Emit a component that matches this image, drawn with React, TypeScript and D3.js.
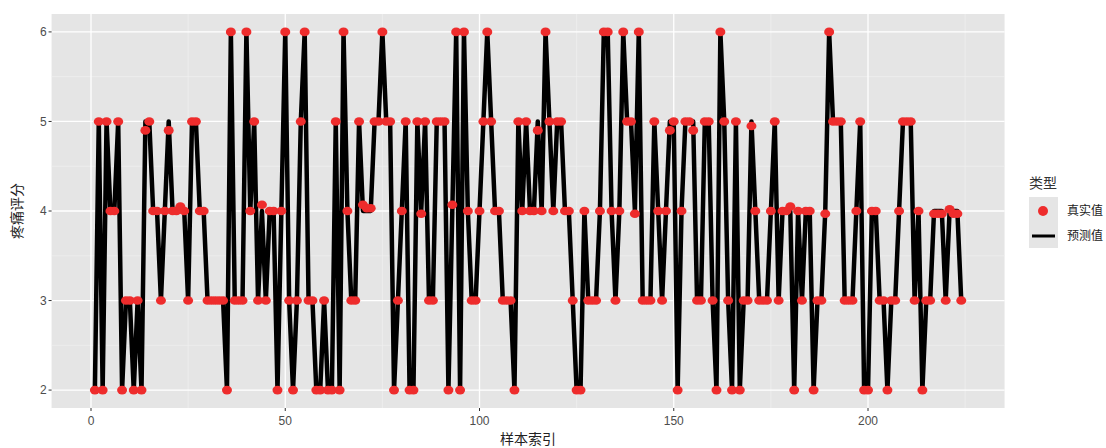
import React from 'react';
import * as d3 from 'd3';

// 真实值 (red points), index 1..224
const trueVals = [
  2, 5, 2, 5, 4, 4, 5, 2, 3, 3,
  2, 3, 2, 4.9, 5, 4, 4, 3, 4, 4.9,
  4, 4, 4.05, 4, 3, 5, 5, 4, 4, 3,
  3, 3, 3, 3, 2, 6, 3, 3, 3, 6,
  4, 5, 3, 4.07, 3, 4, 4, 2, 4, 6,
  3, 2, 3, 5, 6, 3, 3, 2, 2, 3,
  2, 2, 5, 2, 6, 4, 3, 3, 5, 4.07,
  4.03, 4.03, 5, 5, 6, 5, 5, 2, 3, 4,
  5, 2, 2, 5, 3.97, 5, 3, 3, 5, 5,
  5, 2, 4.07, 6, 2, 6, 4, 3, 3, 4,
  5, 6, 5, 4, 4, 3, 3, 3, 2, 5,
  4, 5, 4, 4, 4.9, 4, 6, 5, 4, 5,
  5, 4, 4, 3, 2, 2, 4, 3, 3, 3,
  4, 6, 6, 4, 3, 4, 6, 5, 5, 3.97,
  6, 3, 3, 3, 5, 4, 3, 4, 4.9, 5,
  2, 4, 5, 5, 4.9, 3, 3, 5, 5, 3,
  2, 6, 5, 3, 2, 5, 2, 3, 3, 4.95,
  4, 3, 3, 3, 4, 5, 3, 4, 4, 4.05,
  2, 4, 3, 4, 4, 2, 3, 3, 3.97, 6,
  5, 5, 5, 3, 3, 3, 4, 5, 2, 2,
  4, 4, 3, 3, 2, 3, 3, 4, 5, 5,
  5, 3, 4, 2, 3, 3, 3.97, 3.97, 3.97, 3,
  4.02, 3.97, 3.97, 3,
];

// 预测值 (black line)
const predVals = [
  2, 5, 2, 5, 4, 4, 5, 2, 3, 3,
  2, 3, 2, 5, 5, 4, 4, 3, 4, 5,
  4, 4, 4, 4, 3, 5, 5, 4, 4, 3,
  3, 3, 3, 3, 2, 6, 3, 3, 3, 6,
  4, 5, 3, 4, 3, 4, 4, 2, 4, 6,
  3, 2, 3, 5, 6, 3, 3, 2, 2, 3,
  2, 2, 5, 2, 6, 4, 3, 3, 5, 4,
  4, 4, 5, 5, 6, 5, 5, 2, 3, 4,
  5, 2, 2, 5, 4, 5, 3, 3, 5, 5,
  5, 2, 4, 6, 2, 6, 4, 3, 3, 4,
  5, 6, 5, 4, 4, 3, 3, 3, 2, 5,
  4, 5, 4, 4, 5, 4, 6, 5, 4, 5,
  5, 4, 4, 3, 2, 2, 4, 3, 3, 3,
  4, 6, 6, 4, 3, 4, 6, 5, 5, 4,
  6, 3, 3, 3, 5, 4, 3, 4, 5, 5,
  2, 4, 5, 5, 5, 3, 3, 5, 5, 3,
  2, 6, 5, 3, 2, 5, 2, 3, 3, 5,
  4, 3, 3, 3, 4, 5, 3, 4, 4, 4,
  2, 4, 3, 4, 4, 2, 3, 3, 4, 6,
  5, 5, 5, 3, 3, 3, 4, 5, 2, 2,
  4, 4, 3, 3, 2, 3, 3, 4, 5, 5,
  5, 3, 4, 2, 3, 3, 4, 4, 4, 3,
  4, 4, 4, 3,
];

const xTicks = [0, 50, 100, 150, 200];
const xMinor = [25, 75, 125, 175, 225];
const yTicks = [2, 3, 4, 5, 6];
const yMinor = [2.5, 3.5, 4.5, 5.5];
const legendItems = ['真实值', '预测值'];

const W = 1106;
const H = 448;
const RED = '#EE2C2C';
const FONT = '"Liberation Sans", Arial, sans-serif';
const CJK = '"Noto Sans CJK SC", sans-serif';

export default function App() {
  const n = trueVals.length;
  const pad = (n - 1) * 0.05;
  // unit scale anchored at the tick positions
  const ux = d3.scaleLinear().domain([0, 200]).range([91, 868]);
  const x = d3.scaleLinear()
    .domain([1 - pad, n + pad])
    .range([ux(1 - pad), ux(n + pad)]);
  const y = d3.scaleLinear().domain([1.8, 6.2]).range([408, 14]);

  const [x0, x1] = x.range();
  const [y0, y1] = y.range();

  const line = d3.line<number>()
    .x((_, i) => x(i + 1))
    .y((d) => y(d));

  return (
    <svg width={W} height={H} style={{ position: 'fixed', left: 0, top: 0, background: '#fff' }}>
      {/* panel */}
      <rect x={x0} y={y1} width={x1 - x0} height={y0 - y1} fill="#E5E5E5" />
      {yMinor.map((v) => (
        <line key={'ym' + v} x1={x0} x2={x1} y1={y(v)} y2={y(v)} stroke="#F2F2F2" strokeWidth={0.6} />
      ))}
      {xMinor.filter((v) => x(v) < x1).map((v) => (
        <line key={'xm' + v} x1={x(v)} x2={x(v)} y1={y1} y2={y0} stroke="#F2F2F2" strokeWidth={0.6} />
      ))}
      {yTicks.map((v) => (
        <line key={'yg' + v} x1={x0} x2={x1} y1={y(v)} y2={y(v)} stroke="#fff" strokeWidth={1.3} />
      ))}
      {xTicks.map((v) => (
        <line key={'xg' + v} x1={x(v)} x2={x(v)} y1={y1} y2={y0} stroke="#fff" strokeWidth={1.3} />
      ))}

      <path d={line(predVals) || ''} fill="none" stroke="#000" strokeWidth={4.5} strokeLinejoin="round" />
      {trueVals.map((v, i) => (
        <ellipse key={i} cx={x(i + 1)} cy={y(v)} rx={5} ry={4.3} fill={RED} />
      ))}

      {/* axes */}
      {yTicks.map((v) => (
        <g key={'yt' + v}>
          <line x1={x0 - 3} x2={x0} y1={y(v)} y2={y(v)} stroke="#333" strokeWidth={1} />
          <text x={x0 - 5} y={y(v)} dy="0.35em" textAnchor="end" fontSize={12} fill="#4D4D4D" fontFamily={FONT}>{v}</text>
        </g>
      ))}
      {xTicks.map((v) => (
        <g key={'xt' + v}>
          <line x1={x(v)} x2={x(v)} y1={y0} y2={y0 + 3} stroke="#333" strokeWidth={1} />
          <text x={x(v)} y={y0 + 17} textAnchor="middle" fontSize={12} fill="#4D4D4D" fontFamily={FONT}>{v}</text>
        </g>
      ))}
      <text x={(x0 + x1) / 2} y={444} textAnchor="middle" fontSize={14} fill="#222" fontFamily={CJK}>样本索引</text>
      <text transform={`translate(22,${(y0 + y1) / 2}) rotate(-90)`} textAnchor="middle" fontSize={14} fill="#222" fontFamily={CJK}>疼痛评分</text>

      {/* legend */}
      <text x={1029} y={188} fontSize={14} fill="#333" fontFamily={CJK}>类型</text>
      <rect x={1029} y={197} width={29} height={51} fill="#E5E5E5" />
      <circle cx={1043} cy={211} r={5} fill={RED} />
      <line x1={1032} x2={1055} y1={236} y2={236} stroke="#000" strokeWidth={3} />
      {legendItems.map((t, i) => (
        <text key={t} x={1067} y={211 + i * 25} dy="0.35em" fontSize={12} fill="#222" fontFamily={CJK}>{t}</text>
      ))}
    </svg>
  );
}
